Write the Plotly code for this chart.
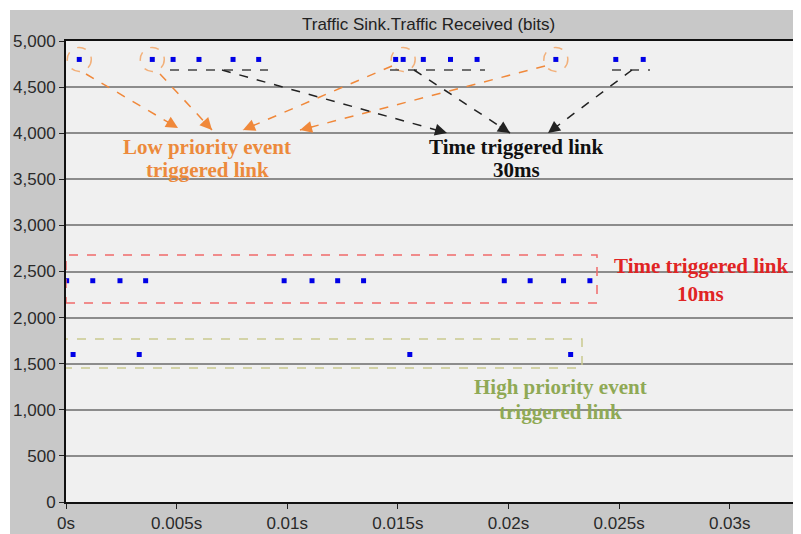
import plotly.graph_objects as go

# ---- data (time in seconds, traffic in bits) ----
low_priority_t = [0.00060, 0.00390, 0.01490, 0.02214]
low_priority_v = [4800, 4800, 4800, 4800]

tt30_t = [0.00484, 0.00601, 0.00755, 0.00871, 0.01524, 0.01615, 0.01738, 0.01858, 0.02485, 0.02609]
tt30_v = [4800] * 10

tt10_t = [0.00003, 0.00121, 0.00244, 0.00360, 0.00986, 0.01112, 0.01228, 0.01345,
          0.01981, 0.02098, 0.02249, 0.02368]
tt10_v = [2400] * 12

high_t = [0.00032, 0.00331, 0.01554, 0.02281]
high_v = [1600] * 4

x_tickvals = [0, 0.005, 0.01, 0.015, 0.02, 0.025, 0.03]
x_ticktext = ["0s", "0.005s", "0.01s", "0.015s", "0.02s", "0.025s", "0.03s"]
y_tickvals = [0, 500, 1000, 1500, 2000, 2500, 3000, 3500, 4000, 4500, 5000]

title_text = "Traffic Sink.Traffic Received (bits)"

# page body has an 8px margin, so the figure is sized/offset to fit the 801x534 window
W, H = 793, 534
ML, MR, MT, MB = 58, 8, 33, 40
XMAX = 0.03286
YMAX = 5000
plot_w = W - ML - MR   # 727
plot_h = H - MT - MB   # 461
# plot-area origin in window pixel coordinates
X0, Y0 = 66, 502


def px2x(px):
    return (px - X0) / plot_w * XMAX


def px2y(py):
    return (Y0 - py) / plot_h * YMAX


def px2paper_x(px):
    return (px - X0) / plot_w


def px2paper_y(py):
    return (Y0 - py) / plot_h


BLUE = "#0000e6"
fig = go.Figure()
all_t = low_priority_t + tt30_t + tt10_t + high_t
all_v = low_priority_v + tt30_v + tt10_v + high_v
fig.add_trace(go.Scatter(x=all_t, y=all_v, mode="markers",
                         marker=dict(symbol="square", size=5, color=BLUE),
                         showlegend=False, hoverinfo="x+y"))

shapes = []
annotations = []

# thin white strips (top & left) of the surrounding page
shapes.append(dict(type="rect", xref="paper", yref="paper",
                   x0=px2paper_x(0), x1=px2paper_x(10),
                   y0=px2paper_y(545), y1=px2paper_y(0),
                   fillcolor="white", line=dict(width=0), layer="below"))
shapes.append(dict(type="rect", xref="paper", yref="paper",
                   x0=px2paper_x(0), x1=px2paper_x(805),
                   y0=px2paper_y(10), y1=px2paper_y(0),
                   fillcolor="white", line=dict(width=0), layer="below"))

# orange dashed circles around low-priority events
for t, v in zip([0.00060, 0.00390, 0.01524, 0.02214], low_priority_v):
    shapes.append(dict(type="circle", xref="x", yref="y",
                       xsizemode="pixel", ysizemode="pixel",
                       xanchor=t, yanchor=v, x0=-12, x1=12, y0=-12, y1=12,
                       line=dict(color="#f2b07a", width=1.5, dash="dash")))

# black dashed underlines for time-triggered 30ms
for a, b in [(170, 268), (390, 485), (612, 650)]:
    shapes.append(dict(type="line", xref="x", yref="y",
                       x0=px2x(a), x1=px2x(b), y0=px2y(70), y1=px2y(70),
                       line=dict(color="#444444", width=1.5, dash="dash")))


def dashed_arrow(p0, p1, color):
    (xa, ya), (xb, yb) = p0, p1
    shapes.append(dict(type="line", xref="x", yref="y",
                       x0=px2x(xa), y0=px2y(ya), x1=px2x(xb), y1=px2y(yb),
                       line=dict(color=color, width=1.5, dash="dash")))
    dx, dy = xa - xb, ya - yb
    n = (dx * dx + dy * dy) ** 0.5
    annotations.append(dict(x=px2x(xb), y=px2y(yb), xref="x", yref="y",
                            ax=dx / n * 14, ay=dy / n * 14,
                            showarrow=True, arrowhead=2, arrowsize=1.6,
                            arrowwidth=1.5, arrowcolor=color, text=""))


ORANGE = "#f0883a"
for p0, p1 in [((86, 74), (178, 128)), ((160, 74), (212, 130)),
               ((392, 66), (243, 130)), ((545, 66), (300, 130))]:
    dashed_arrow(p0, p1, ORANGE)
for p0, p1 in [((222, 70), (447, 133)), ((414, 70), (510, 133)),
               ((632, 70), (548, 133))]:
    dashed_arrow(p0, p1, "#222222")

# dashed boxes
shapes.append(dict(type="rect", xref="x", yref="y",
                   x0=px2x(66), x1=px2x(597), y0=px2y(303), y1=px2y(255),
                   line=dict(color="#f06a6a", width=1.5, dash="dash")))
shapes.append(dict(type="rect", xref="x", yref="y",
                   x0=px2x(63), x1=px2x(582), y0=px2y(368), y1=px2y(339),
                   line=dict(color="#c9c98f", width=1.5, dash="dash")))

SERIF = "Liberation Serif"
for txt, cx, cy, col in [
    ("Low priority event", 207, 147, "#ec8a3c"),
    ("triggered link", 207, 170, "#ec8a3c"),
    ("Time triggered link", 516, 147, "#111111"),
    ("30ms", 516, 170, "#111111"),
    ("Time triggered link", 701, 266, "#e02424"),
    ("10ms", 700, 294, "#e02424"),
    ("High priority event", 560, 387, "#8fa955"),
    ("triggered link", 560, 412, "#8fa955"),
]:
    annotations.append(dict(x=px2x(cx), y=px2y(cy), xref="x", yref="y",
                            text="<b>" + txt + "</b>", showarrow=False,
                            font=dict(family=SERIF, size=21, color=col),
                            xanchor="center", yanchor="middle"))

# title
annotations.append(dict(x=px2paper_x(428), y=px2paper_y(25),
                        xref="paper", yref="paper", text=title_text,
                        showarrow=False, xanchor="center", yanchor="middle",
                        font=dict(family="Liberation Sans", size=17, color="#222222")))

fig.update_layout(
    width=W, height=H,
    margin=dict(l=ML, r=MR, t=MT, b=MB, pad=0, autoexpand=False),
    paper_bgcolor="#c8c8c8",
    plot_bgcolor="#f0f0f0",
    font=dict(family="Liberation Sans", size=17, color="#2a2a2a"),
    shapes=shapes,
    annotations=annotations,
    showlegend=False,
)
fig.update_xaxes(range=[0, XMAX], tickvals=x_tickvals, ticktext=x_ticktext,
                 showgrid=False, zeroline=False, showline=True, linecolor="#111111",
                 linewidth=2, mirror=True, ticks="outside", ticklen=5,
                 tickcolor="#222222", tickwidth=1, automargin=False)
fig.update_yaxes(range=[0, YMAX], tickvals=y_tickvals, tickformat=",d",
                 showgrid=True, gridcolor="#8c8c8c", gridwidth=2, zeroline=False,
                 showline=True, linecolor="#111111", linewidth=2, mirror=True,
                 ticks="outside", ticklen=5, tickcolor="#222222", tickwidth=1,
                 automargin=False)

fig.write_html("out.html")
